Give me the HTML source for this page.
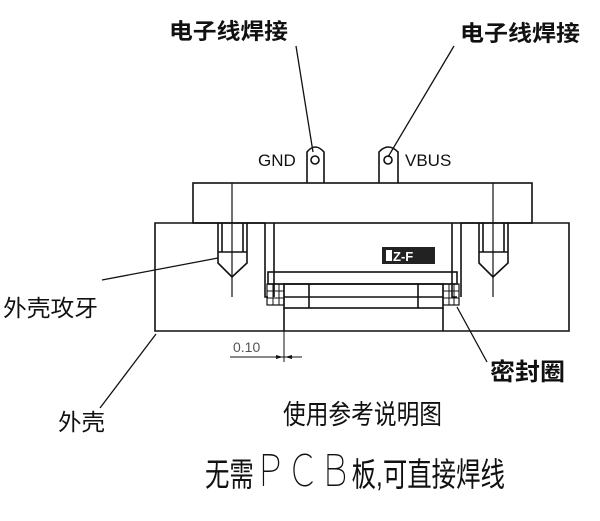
<!DOCTYPE html>
<html><head><meta charset="utf-8"><style>
html,body{margin:0;padding:0;background:#fff;width:600px;height:521px;overflow:hidden}
svg{display:block}
text{font-family:"Liberation Sans","Noto Sans CJK SC",sans-serif;fill:#111}
</style></head><body>
<svg width="600" height="521" viewBox="0 0 600 521" stroke="#111" fill="none" stroke-width="1.6">
<!-- top body -->
<rect x="193" y="183" width="339" height="40"/>
<!-- base -->
<path d="M265 223 H155 V331 H569 V223 H461"/>
<path d="M274 223 V297 M265 223 V297 H268 M461 223 V297 M452 223 V297 H457"/>
<!-- pins -->
<path d="M307 183 V152 Q315 142 324 152 V183"/>
<circle cx="315" cy="160" r="4"/>
<path d="M379 183 V152 Q388 142 398 152 V183"/>
<circle cx="388" cy="160" r="4"/>
<!-- screws -->
<path d="M218 223 V263 L232 277 L247 263 V223 M222 223 V252 M243 223 V252 M218 252 H247"/>
<line x1="232" y1="183" x2="232" y2="297" stroke-width="1.2"/>
<path d="M479 223 V263 L493 277 L508 263 V223 M483 223 V252 M504 223 V252 M479 252 H508"/>
<line x1="493" y1="183" x2="493" y2="297" stroke-width="1.2"/>
<!-- glass -->
<rect x="268" y="272" width="189" height="12"/>
<rect x="284" y="284" width="159" height="24"/>
<path d="M284 297 H443 M309 284 V308 M418 284 V308 M284 308 V331 M443 308 V331"/>
<!-- seals -->
<rect x="267" y="284" width="17" height="21" stroke-width="1.2"/>
<path d="M267 291 H284 M267 298 H284 M273 284 V305 M279 284 V305" stroke-width="1"/>
<rect x="443" y="284" width="16" height="21" stroke-width="1.2"/>
<path d="M443 291 H459 M443 298 H459 M449 284 V305 M454 284 V305" stroke-width="1"/>
<!-- label -->
<rect x="382" y="247" width="53" height="17" fill="#222" stroke="none"/>
<rect x="386" y="250" width="6" height="11" fill="#fff" stroke="none"/>
<text x="393" y="261" font-size="13" font-weight="bold" style="fill:#fff" stroke="none">Z-F</text>
<!-- dimension -->
<line x1="284" y1="331" x2="284" y2="362" stroke-width="1"/>
<line x1="230" y1="357" x2="302" y2="357" stroke-width="1"/>
<path d="M276 355 L283 357 L276 359 Z M292 355 L285 357 L292 359 Z" fill="#111" stroke="none"/>
<text x="233" y="352" font-size="14" stroke="none" style="fill:#555">0.10</text>
<!-- leaders -->
<line x1="296" y1="46" x2="313" y2="152" stroke-width="1.3"/>
<line x1="454" y1="46" x2="388" y2="157" stroke-width="1.3"/>
<line x1="102" y1="280" x2="218" y2="258" stroke-width="1.3"/>
<line x1="100" y1="408" x2="156" y2="334" stroke-width="1.3"/>
<line x1="457" y1="307" x2="487" y2="362" stroke-width="1.3"/>
<g stroke="none">
<text x="258" y="166" font-size="17">GND</text>
<text x="405" y="166" font-size="17">VBUS</text>
<text x="169" y="39" font-size="22" font-weight="bold" textLength="119" lengthAdjust="spacingAndGlyphs">电子线焊接</text>
<text x="460" y="41" font-size="22" font-weight="bold" textLength="120" lengthAdjust="spacingAndGlyphs">电子线焊接</text>
<text x="3" y="316" font-size="23" textLength="95" lengthAdjust="spacingAndGlyphs">外壳攻牙</text>
<text x="58" y="430" font-size="23" textLength="47" lengthAdjust="spacingAndGlyphs">外壳</text>
<text x="490" y="380" font-size="24" font-weight="bold" textLength="75" lengthAdjust="spacingAndGlyphs">密封圈</text>
<text x="283" y="424" font-size="27" textLength="159" lengthAdjust="spacingAndGlyphs">使用参考说明图</text>
<text x="205" y="486" font-size="33" textLength="300" lengthAdjust="spacingAndGlyphs">无需<tspan font-size="44" style="font-weight:100">ＰＣＢ</tspan>板,可直接焊线</text>
</g>
</svg>
</body></html>
